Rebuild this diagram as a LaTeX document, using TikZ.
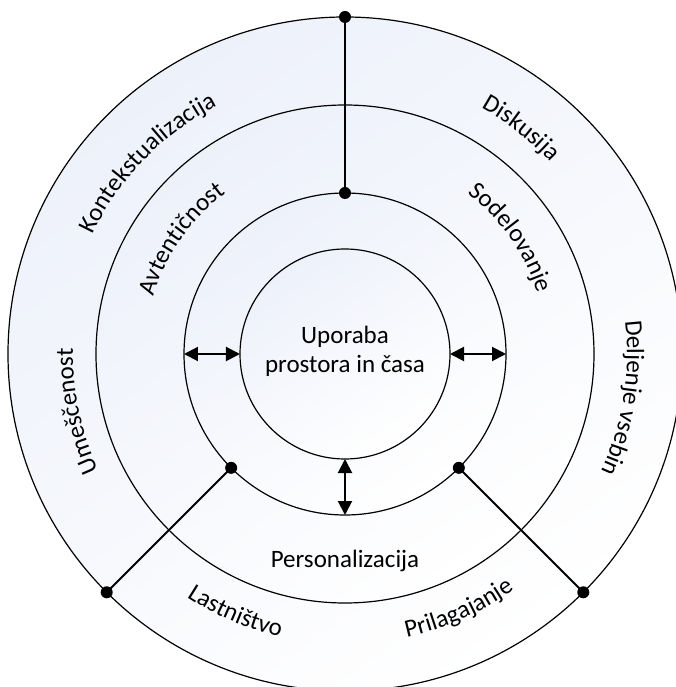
\documentclass[tikz,border=0pt]{standalone}
\usepackage{fontspec}
\setmainfont{Carlito}
\usetikzlibrary{arrows.meta,decorations.text}
\definecolor{ringblue}{HTML}{EDF1FA}

\begin{document}
\begin{tikzpicture}[x=1pt, y=1pt,
		ring/.style={circle, draw, line width=1.2pt, inner sep=0pt, outer sep=0pt,
			top color=ringblue, bottom color=white, shading angle=35},
		link/.style={line width=2pt},
		twoway/.style={line width=2pt, {Triangle[length=14pt,width=14pt]}-{Triangle[length=14pt,width=14pt]}},
		along/.style={decorate, decoration={text along path, text align=center, text={#1}}},
	]
	\fontsize{25}{29}\selectfont
	\useasboundingbox (-345,-333) rectangle (330,354);
	\node[ring, minimum size=674pt] (outer) at (0,0) {};
	\node[ring, minimum size=498pt] (middle) at (0,0) {};
	\node[ring, minimum size=322pt] (inner) at (0,0) {};
	\node[ring, minimum size=210pt, align=center, text depth=10pt] (core) at (0,0) {Uporaba\\prostora in časa};
	\node (pers) at (0,-207) {Personalizacija};
	% spokes
	\draw[link] (outer.north) -- (inner.north);
	\draw[link] (inner.225) -- (outer.225);
	\draw[link] (inner.315) -- (outer.315);
	\foreach \p in {outer.north, inner.north, inner.225, outer.225, inner.315, outer.315}
		\fill (\p) circle (6);
	% arrows
	\draw[twoway] (inner.west) -- (core.west);
	\draw[twoway] (core.east) -- (inner.east);
	\draw[twoway] (core.south) -- (inner.south);
	% outer ring
	\path[along={Kontekstualizacija}] (176:279) arc[start angle=176, end angle=96, radius=279];
	\path[along={Diskusija}] (92:281) arc[start angle=92, end angle=12, radius=281];
	\path[along={Umeščenost}] (232:272) arc[start angle=232, end angle=152, radius=272];
	\path[along={Deljenje vsebin}] (31:282) arc[start angle=31, end angle=-49, radius=282];
	\path[along={Lastništvo}] (-153:290) arc[start angle=-153, end angle=-73, radius=290];
	\path[along={Prilagajanje}] (-106:290) arc[start angle=-106, end angle=-26, radius=290];
	% middle ring
	\path[along={Avtentičnost}] (185:200) arc[start angle=185, end angle=105, radius=200];
	\path[along={Sodelovanje}] (75:202) arc[start angle=75, end angle=-5, radius=202];
\end{tikzpicture}
\end{document}
